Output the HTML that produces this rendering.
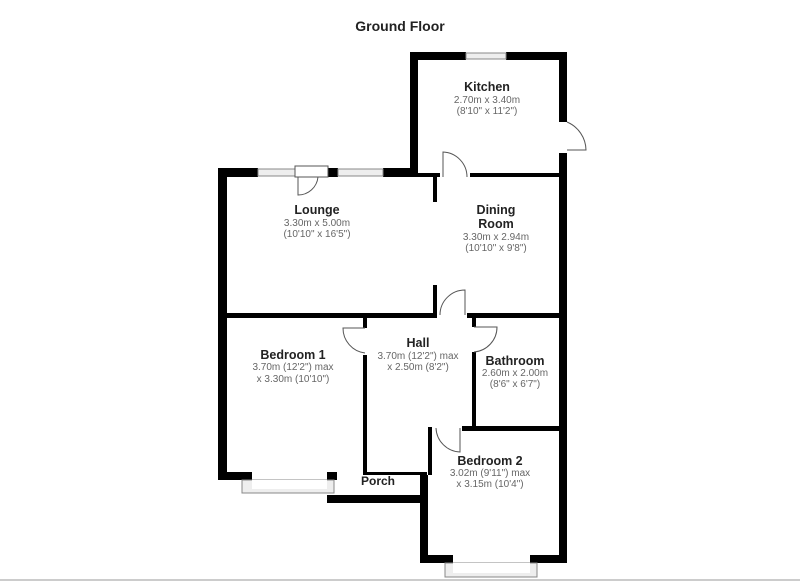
<!DOCTYPE html>
<html><head><meta charset="utf-8"><style>
body{margin:0;background:#fff;}
svg text{font-family:"Liberation Sans",sans-serif;text-anchor:middle;}
.t{font-weight:bold;font-size:12.5px;fill:#222;}
.d{font-size:10px;fill:#666;}
</style></head><body>
<svg width="800" height="583" viewBox="0 0 800 583" xmlns="http://www.w3.org/2000/svg">
<text x="400" y="31" style="font-weight:bold;font-size:14px;fill:#222">Ground Floor</text>
<g fill="#000">
<!-- kitchen -->
<rect x="410" y="52" width="56" height="8"/>
<rect x="506" y="52" width="61" height="8"/>
<rect x="410" y="52" width="8" height="125"/>
<rect x="559" y="52" width="8" height="70"/>
<rect x="559" y="153" width="8" height="410"/>
<!-- lounge top -->
<rect x="218" y="168" width="40" height="9"/>
<rect x="328" y="168" width="10" height="9"/>
<rect x="383" y="168" width="35" height="9"/>
<rect x="218" y="168" width="9" height="312"/>
<rect x="418" y="173" width="22" height="4"/>
<rect x="470" y="173" width="89" height="4"/>
<!-- partition -->
<rect x="433" y="177" width="4" height="25"/>
<rect x="433" y="285" width="4" height="32"/>
<!-- lounge bottom -->
<rect x="227" y="313" width="210" height="5"/>
<rect x="467" y="313" width="92" height="5"/>
<!-- hall/bed1 -->
<rect x="363" y="318" width="4" height="10"/>
<rect x="363" y="355" width="4" height="120"/>
<!-- bed1 bottom -->
<rect x="218" y="472" width="34" height="8"/>
<rect x="327" y="472" width="10" height="8"/>
<rect x="367" y="472" width="60" height="3"/>
<!-- porch bottom -->
<rect x="327" y="495" width="100" height="8"/>
<!-- bathroom -->
<rect x="472" y="318" width="4" height="9"/>
<rect x="472" y="352" width="4" height="76"/>
<rect x="462" y="426" width="97" height="5"/>
<!-- bedroom2 -->
<rect x="428" y="427" width="4" height="48"/>
<rect x="420" y="475" width="8" height="88"/>
<rect x="420" y="555" width="33" height="8"/>
<rect x="530" y="555" width="37" height="8"/>
</g>
<!-- windows -->
<g fill="#eee" stroke="#888" stroke-width="1">
<rect x="466" y="53" width="40" height="6"/>
<rect x="258" y="169" width="37" height="7"/>
<rect x="338" y="169" width="45" height="7"/>
<rect x="242" y="480" width="92" height="13"/>
<rect x="445" y="563" width="92" height="14"/>
</g>
<g fill="#fff"><rect x="252" y="480" width="75" height="9"/><rect x="453" y="563" width="77" height="10"/></g>
<g fill="none" stroke="#555" stroke-width="1">
<!-- lounge door -->
<rect x="295" y="166" width="33" height="11" fill="#fff"/>
<path d="M298 177 V195 A20 20 0 0 0 318 177"/>
<!-- kitchen back door -->
<path d="M567 122 A31 31 0 0 1 586 150 H567"/>
<!-- dining door -->
<path d="M443 177 V152 A25 25 0 0 1 467 177"/>
<!-- hall door -->
<path d="M440 315 A25 25 0 0 1 465 290 V315"/>
<!-- bed1 door -->
<path d="M365 328 H343 A25 25 0 0 0 365 353"/>
<!-- bath door -->
<path d="M474 327 H497 A25 25 0 0 1 474 352"/>
<!-- bed2 door -->
<path d="M436 428 A25 25 0 0 0 460 452 V428"/>
</g>
<line x1="0" y1="580" x2="800" y2="580" stroke="#999" stroke-width="1"/>
<text class="t" x="487" y="91">Kitchen</text>
<text class="d" x="487" y="103">2.70m x 3.40m</text>
<text class="d" x="487" y="114">(8'10" x 11'2")</text>
<text class="t" x="317" y="214">Lounge</text>
<text class="d" x="317" y="226">3.30m x 5.00m</text>
<text class="d" x="317" y="237">(10'10" x 16'5")</text>
<text class="t" x="496" y="214">Dining</text>
<text class="t" x="496" y="228">Room</text>
<text class="d" x="496" y="240">3.30m x 2.94m</text>
<text class="d" x="496" y="251">(10'10" x 9'8")</text>
<text class="t" x="418" y="347">Hall</text>
<text class="d" x="418" y="359">3.70m (12'2") max</text>
<text class="d" x="418" y="370">x 2.50m (8'2")</text>
<text class="t" x="293" y="359">Bedroom 1</text>
<text class="d" x="293" y="370">3.70m (12'2") max</text>
<text class="d" x="293" y="382">x 3.30m (10'10")</text>
<text class="t" x="515" y="365">Bathroom</text>
<text class="d" x="515" y="376">2.60m x 2.00m</text>
<text class="d" x="515" y="387">(8'6" x 6'7")</text>
<text class="t" x="490" y="465">Bedroom 2</text>
<text class="d" x="490" y="476">3.02m (9'11") max</text>
<text class="d" x="490" y="487">x 3.15m (10'4")</text>
<text class="t" x="378" y="485" style="font-size:12px">Porch</text>
</svg>
</body></html>
